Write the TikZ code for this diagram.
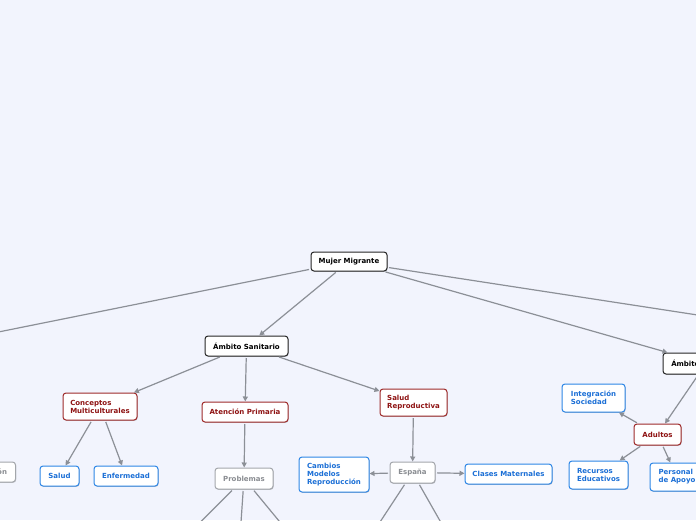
\documentclass[tikz,border=0pt]{standalone}
\usepackage{fontspec}
\setmainfont{DejaVu Sans}
\usetikzlibrary{arrows.meta,shadows}
\definecolor{bgc}{HTML}{F2F4FD}
\definecolor{linec}{HTML}{8C9097}
\definecolor{redb}{HTML}{9E2A2A}
\definecolor{redt}{HTML}{8E1212}
\definecolor{blub}{HTML}{2D86E6}
\definecolor{blut}{HTML}{1B6FD6}
\definecolor{gryb}{HTML}{A3A6AB}
\definecolor{gryt}{HTML}{8A8D92}
\begin{document}
\begin{tikzpicture}[x=1pt,y=-1pt,
  box/.style={rounded corners=3pt, line width=1pt, fill=white, inner sep=0pt,
    font=\fontsize{7}{8}\selectfont\bfseries, align=left,
    drop shadow={shadow xshift=0.6pt, shadow yshift=-0.8pt, opacity=0.22, fill=black}},
  blkbox/.style={box, draw=black!85, text=black},
  redbox/.style={box, draw=redb, text=redt},
  blubox/.style={box, draw=blub, text=blut},
  grybox/.style={box, draw=gryb, text=gryt},
  conn/.style={draw=linec, line width=1.2pt, shorten <=1.5pt, -{Triangle[length=5pt,width=5pt]}},
  freeconn/.style={draw=linec, line width=1.2pt, shorten <=1.5pt}]
\useasboundingbox (0,0) rectangle (696,520);
\clip (0,0) rectangle (696,520);
\fill[bgc] (0,0) rectangle (696,520);

% nodes
\node[blkbox, minimum width=76pt, minimum height=19pt] (mujer) at (349,261.5) {Mujer Migrante};
\node[blkbox, minimum width=83pt, minimum height=20pt] (sanit) at (246.5,346) {Ámbito Sanitario};
\node[blkbox, minimum width=86pt, minimum height=21pt] (educ) at (706,363.5) {Ámbito Educativo};

\node[redbox, minimum width=74pt, minimum height=27pt] (concept) at (100,406.5) {Conceptos\\Multiculturales};
\node[redbox, minimum width=86pt, minimum height=20pt] (aten) at (245,412) {Atención Primaria};
\node[redbox, minimum width=67pt, minimum height=27pt] (salrep) at (413.5,402.5) {Salud\\Reproductiva};
\node[redbox, minimum width=47pt, minimum height=21pt] (adultos) at (657.5,434.5) {Adultos};

\node[blubox, minimum width=39pt, minimum height=20pt] (salud) at (59.5,476) {Salud};
\node[blubox, minimum width=64pt, minimum height=20pt] (enferm) at (126,476) {Enfermedad};
\node[blubox, minimum width=70pt, minimum height=35pt] (cambios) at (334,474.5) {Cambios\\Modelos\\Reproducción};
\node[blubox, minimum width=87pt, minimum height=20pt] (clases) at (508.5,474) {Clases Maternales};
\node[blubox, minimum width=63pt, minimum height=28pt] (integ) at (593.5,398) {Integración\\Sociedad};
\node[blubox, minimum width=59pt, minimum height=28pt] (recursos) at (598.5,475) {Recursos\\Educativos};
\node[blubox, minimum width=54pt, minimum height=28pt] (personal) at (677,477) {Personal\\de Apoyo};

\node[grybox, minimum height=20pt, inner xsep=8.5pt, anchor=east] (formac) at (16,472) {Formación};
\node[grybox, minimum width=58pt, minimum height=21pt] (problemas) at (244,478.5) {Problemas};
\node[grybox, minimum width=45pt, minimum height=21pt] (espana) at (412.5,472.5) {España};

% free ends beyond the page
\coordinate (offleft) at (-100,351.8);
\coordinate (offright) at (900,346.1);
\coordinate (probA) at (164,558.5);
\coordinate (probB) at (238.5,558.5);
\coordinate (probC) at (310,558.5);
\coordinate (espA) at (360,552.5);
\coordinate (espB) at (458,552.5);

% connectors
\draw[freeconn] (mujer) -- (offleft);
\draw[freeconn] (mujer) -- (offright);
\draw[conn] (mujer) -- (sanit);
\draw[conn] (mujer) -- (educ);

\draw[conn] (sanit) -- (concept);
\draw[conn] (sanit) -- (aten);
\draw[conn] (sanit) -- (salrep);

\draw[conn] (concept) -- (salud);
\draw[conn] (concept) -- (enferm);
\draw[conn] (aten) -- (problemas);
\draw[conn] (salrep) -- (espana);
\draw[conn] (espana) -- (cambios);
\draw[conn] (espana) -- (clases);

\draw[freeconn] (problemas) -- (probA);
\draw[freeconn] (problemas) -- (probB);
\draw[freeconn] (problemas) -- (probC);
\draw[freeconn] (espana) -- (espA);
\draw[freeconn] (espana) -- (espB);

\draw[conn] (educ) -- (adultos);
\draw[conn] (adultos) -- (integ);
\draw[conn] (adultos) -- (recursos);
\draw[conn] (adultos) -- (personal);
\end{tikzpicture}
\end{document}
